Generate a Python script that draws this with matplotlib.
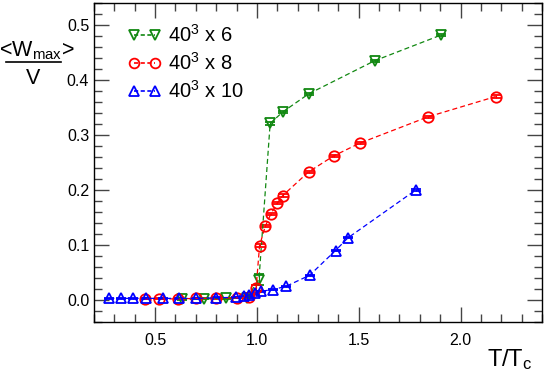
import numpy as np
import matplotlib
matplotlib.use('Agg')
import matplotlib.pyplot as plt
from matplotlib.ticker import MultipleLocator
from matplotlib.lines import Line2D

plt.rcParams['font.family'] = ['Liberation Sans', 'DejaVu Sans']
plt.rcParams['mathtext.default'] = 'regular'

# data
t6 = [0.63, 0.74, 0.85, 0.95, 1.01, 1.065, 1.127, 1.255, 1.578, 1.906]
w6 = [0.001, 0.002, 0.003, 0.004, 0.037, 0.321, 0.342, 0.375, 0.435, 0.482]
e6 = [0.001, 0.001, 0.001, 0.001, 0.010, 0.002, 0.002, 0.002, 0.002, 0.002]

t8 = [0.45, 0.52, 0.61, 0.70, 0.80, 0.90, 0.96, 0.996, 1.013, 1.041, 1.069,
      1.100, 1.127, 1.254, 1.377, 1.504, 1.840, 2.173]
w8 = [0.002, 0.002, 0.002, 0.003, 0.003, 0.004, 0.005, 0.022, 0.099, 0.134,
      0.157, 0.176, 0.190, 0.233, 0.262, 0.285, 0.333, 0.370]
e8 = [0.001] * 7 + [0.005, 0.003, 0.002, 0.002, 0.002, 0.002, 0.002, 0.002,
                    0.002, 0.002, 0.002]

t10 = [0.275, 0.333, 0.39, 0.456, 0.541, 0.616, 0.702, 0.80, 0.899, 0.935,
       0.961, 0.989, 1.022, 1.079, 1.144, 1.259, 1.386, 1.447, 1.780]
w10 = [0.003, 0.003, 0.003, 0.003, 0.003, 0.003, 0.003, 0.004, 0.005, 0.007,
       0.009, 0.012, 0.016, 0.019, 0.025, 0.045, 0.090, 0.113, 0.200]
e10 = [0.001] * 19

labels = [r'40$^3$ x 6', r'40$^3$ x 8', r'40$^3$ x 10']

fig = plt.figure(figsize=(5.45, 3.76), dpi=100)
ax = fig.add_axes([0.1725, 0.1436, 0.822, 0.8484])

series = [(t6, w6, e6, 'v', '#118811'),
          (t8, w8, e8, 'o', '#ff0000'),
          (t10, w10, e10, '^', '#0000ff')]
handles = []
for (t, w, e, m, c), lab in zip(series, labels):
    ax.errorbar(t, w, yerr=e, fmt=m, color=c, ls=(0, (4, 2.5)), lw=0.9,
                ms=7.5, mfc='none', mec=c, mew=1.3, capsize=3.5,
                elinewidth=0.8, capthick=0.8)
    handles.append(Line2D([], [], color=c, ls=(0, (2.5, 1.5)), lw=1.2,
                          marker=m, ms=7, mfc='none', mec=c, mew=1.3))

ax.set_xlim(0.2, 2.4)
ax.set_ylim(-0.04, 0.54)
ax.xaxis.set_major_locator(MultipleLocator(0.5))
ax.xaxis.set_minor_locator(MultipleLocator(0.1))
ax.yaxis.set_major_locator(MultipleLocator(0.1))
ax.yaxis.set_minor_locator(MultipleLocator(0.02))
ax.xaxis.set_major_formatter(plt.FuncFormatter(lambda v, p: '%.1f' % v))
ax.yaxis.set_major_formatter(plt.FuncFormatter(lambda v, p: '%.1f' % v))
ax.tick_params(which='both', direction='in', top=True, right=True,
               labelsize=11.5, color='#444444')
ax.tick_params(which='major', length=11, width=1)
ax.tick_params(which='minor', length=6, width=1)
ax.tick_params(axis='x', pad=8)
for s in ax.spines.values():
    s.set_linewidth(1)

ax.legend(handles, labels, loc='upper left', bbox_to_anchor=(0.035, 0.99),
          frameon=False, numpoints=2, handlelength=1.65, handletextpad=0.35,
          labelspacing=0.3, fontsize=14.5)

# y label drawn as a fraction
fig.text(37 / 545, 1 - 51 / 376, r'<W$_{max}$>', ha='center', va='center',
         fontsize=15.5)
fig.add_artist(Line2D([6 / 545, 61 / 545], [1 - 62 / 376, 1 - 62 / 376],
                      color='black', lw=1.2))
fig.text(33 / 545, 1 - 78 / 376, 'V', ha='center', va='center', fontsize=15.5)

fig.text(533 / 545, 1 - 360 / 376, r'T/T$_c$', ha='right', va='center',
         fontsize=17)

fig.savefig('out.png', dpi=100)
